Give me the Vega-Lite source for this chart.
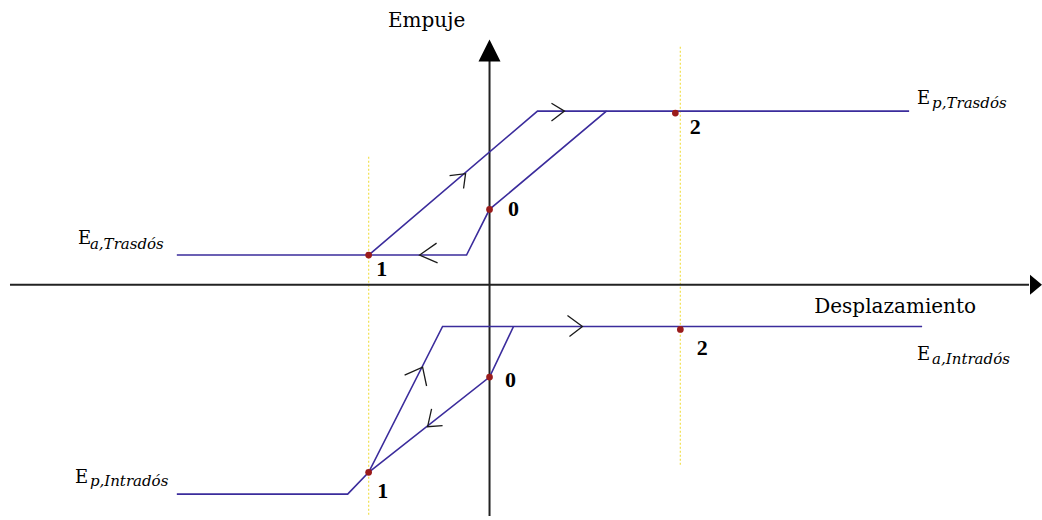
{
  "$schema": "https://vega.github.io/schema/vega-lite/v6.json",
  "width": 1042,
  "height": 520,
  "autosize": {"type": "fit", "contains": "padding"},
  "padding": 0,
  "background": "white",
  "config": {"view": {"stroke": null}},
  "datasets": {
    "guides": [
      {"id": "g1", "x": -121, "y": 129},
      {"id": "g1", "x": -121, "y": -233},
      {"id": "g2", "x": 191, "y": 240},
      {"id": "g2", "x": 191, "y": -183}
    ],
    "axes": [
      {"id": "h", "x": -480, "y": 0},
      {"id": "h", "x": 540, "y": 0},
      {"id": "v", "x": 0, "y": -233},
      {"id": "v", "x": 0, "y": 228}
    ],
    "heads": [
      {"dir": "right", "x": 547, "y": 0},
      {"dir": "up", "x": 0, "y": 236}
    ],
    "curves": [
      {"id": "u1", "o": 1, "x": -313, "y": 30},
      {"id": "u1", "o": 2, "x": -23, "y": 30},
      {"id": "u1", "o": 3, "x": 0, "y": 76},
      {"id": "u1", "o": 4, "x": 117, "y": 175},
      {"id": "u1", "o": 5, "x": 420, "y": 175},
      {"id": "u2", "o": 1, "x": -121, "y": 30},
      {"id": "u2", "o": 2, "x": 48, "y": 175},
      {"id": "u2", "o": 3, "x": 117, "y": 175},
      {"id": "l1", "o": 1, "x": -313, "y": -211},
      {"id": "l1", "o": 2, "x": -142, "y": -211},
      {"id": "l1", "o": 3, "x": -121, "y": -189},
      {"id": "l1", "o": 4, "x": -47, "y": -42},
      {"id": "l1", "o": 5, "x": 433, "y": -42},
      {"id": "l2", "o": 1, "x": -121, "y": -189},
      {"id": "l2", "o": 2, "x": 0, "y": -93},
      {"id": "l2", "o": 3, "x": 24, "y": -42}
    ],
    "chevrons": [
      {"id": "a1", "o": 1, "x": 62, "y": 183},
      {"id": "a1", "o": 2, "x": 75, "y": 175},
      {"id": "a1", "o": 3, "x": 62, "y": 165},
      {"id": "a2", "o": 1, "x": -53, "y": 42},
      {"id": "a2", "o": 2, "x": -70, "y": 30},
      {"id": "a2", "o": 3, "x": -52, "y": 22},
      {"id": "a3", "o": 1, "x": -40, "y": 110},
      {"id": "a3", "o": 2, "x": -24, "y": 112},
      {"id": "a3", "o": 3, "x": -26, "y": 97},
      {"id": "a4", "o": 1, "x": 78, "y": -31},
      {"id": "a4", "o": 2, "x": 93, "y": -42},
      {"id": "a4", "o": 3, "x": 80, "y": -52},
      {"id": "a5", "o": 1, "x": -85, "y": -91},
      {"id": "a5", "o": 2, "x": -67, "y": -83},
      {"id": "a5", "o": 3, "x": -63, "y": -102},
      {"id": "a6", "o": 1, "x": -58, "y": -125},
      {"id": "a6", "o": 2, "x": -62, "y": -143},
      {"id": "a6", "o": 3, "x": -47, "y": -142}
    ],
    "dots": [
      {"x": -121, "y": 30},
      {"x": 0, "y": 76},
      {"x": 186, "y": 173},
      {"x": -121, "y": -189},
      {"x": 0, "y": -93},
      {"x": 191, "y": -45}
    ],
    "numbers": [
      {"t": "1", "x": -108, "y": 16},
      {"t": "0", "x": 24, "y": 76},
      {"t": "2", "x": 206, "y": 159},
      {"t": "2", "x": 213, "y": -64},
      {"t": "0", "x": 21, "y": -96},
      {"t": "1", "x": -107, "y": -208}
    ],
    "titles": [
      {"t": "Empuje", "x": -63, "y": 266},
      {"t": "Desplazamiento", "x": 406, "y": -22}
    ],
    "bigE": [
      {"t": "E", "x": 428, "y": 182},
      {"t": "E", "x": 428, "y": -76},
      {"t": "E", "x": -415, "y": -200},
      {"t": "E", "x": -412, "y": 41}
    ],
    "subs": [
      {"t": "p,Trasdós", "x": 443, "y": 178},
      {"t": "a,Intradós", "x": 443, "y": -80},
      {"t": "p,Intradós", "x": -400, "y": -203},
      {"t": "a,Trasdós", "x": -400, "y": 36}
    ]
  },
  "encoding": {
    "x": {"field": "x", "type": "quantitative", "scale": {"domain": [-490, 552], "nice": false, "zero": false}, "axis": null},
    "y": {"field": "y", "type": "quantitative", "scale": {"domain": [-233, 287], "nice": false, "zero": false}, "axis": null}
  },
  "layer": [
    {
      "data": {"name": "guides"},
      "mark": {"type": "line", "color": "#f2e25c", "strokeWidth": 1.3, "strokeDash": [2, 2]},
      "encoding": {"detail": {"field": "id"}}
    },
    {
      "data": {"name": "axes"},
      "mark": {"type": "line", "color": "#222222", "strokeWidth": 2},
      "encoding": {"detail": {"field": "id"}}
    },
    {
      "data": {"name": "heads"},
      "transform": [{"filter": "datum.dir === 'right'"}],
      "mark": {"type": "point", "shape": "M-0.6,-1L0.6,0L-0.6,1Z", "size": 400, "filled": true, "color": "#000000", "opacity": 1}
    },
    {
      "data": {"name": "heads"},
      "transform": [{"filter": "datum.dir === 'up'"}],
      "mark": {"type": "point", "shape": "M-1,1L0,-1L1,1Z", "size": 484, "filled": true, "color": "#000000", "opacity": 1}
    },
    {
      "data": {"name": "curves"},
      "mark": {"type": "line", "color": "#3b2c9c", "strokeWidth": 1.6},
      "encoding": {"detail": {"field": "id"}, "order": {"field": "o"}}
    },
    {
      "data": {"name": "chevrons"},
      "mark": {"type": "line", "color": "#1a1a1a", "strokeWidth": 1.3},
      "encoding": {"detail": {"field": "id"}, "order": {"field": "o"}}
    },
    {
      "data": {"name": "dots"},
      "mark": {"type": "point", "shape": "circle", "size": 45, "filled": true, "color": "#9a1b1b", "opacity": 1}
    },
    {
      "data": {"name": "numbers"},
      "mark": {"type": "text", "font": "Liberation Serif", "fontSize": 22, "fontWeight": "bold", "color": "#000000", "align": "center", "baseline": "middle"},
      "encoding": {"text": {"field": "t"}}
    },
    {
      "data": {"name": "titles"},
      "mark": {"type": "text", "font": "DejaVu Serif", "fontSize": 20, "color": "#000000", "align": "center", "baseline": "middle"},
      "encoding": {"text": {"field": "t"}}
    },
    {
      "data": {"name": "bigE"},
      "mark": {"type": "text", "font": "DejaVu Serif", "fontSize": 18, "color": "#000000", "align": "left", "baseline": "alphabetic"},
      "encoding": {"text": {"field": "t"}}
    },
    {
      "data": {"name": "subs"},
      "mark": {"type": "text", "font": "DejaVu Serif", "fontSize": 15, "fontStyle": "italic", "color": "#000000", "align": "left", "baseline": "alphabetic"},
      "encoding": {"text": {"field": "t"}}
    }
  ]
}
